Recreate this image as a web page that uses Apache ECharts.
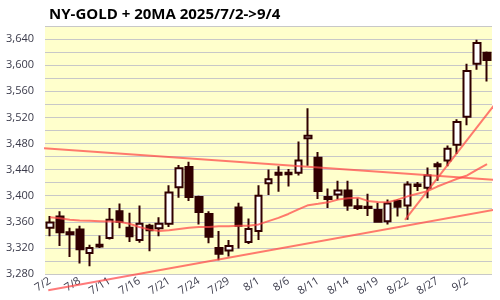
<!DOCTYPE html>
<html><head><meta charset="utf-8">
<script src="https://cdn.jsdelivr.net/npm/echarts@6/dist/echarts.min.js"></script>
<style>html,body{margin:0;padding:0;background:#fff}#c{width:500px;height:300px}</style>
</head><body><div id="c"></div>
<script>
const dates = ['7/2','7/3','7/7','7/8','7/9','7/10','7/11','7/14','7/15','7/16','7/17','7/18','7/21','7/22','7/23','7/24','7/25','7/28','7/29','7/30','7/31','8/1','8/4','8/5','8/6','8/7','8/8','8/11','8/12','8/13','8/14','8/15','8/18','8/19','8/20','8/21','8/22','8/25','8/26','8/27','8/28','8/29','9/2','9/3','9/4'];
const opens  = [3351,3368,3344,3348,3312,3322,3335,3376,3351,3332,3354,3350,3357,3413,3444,3398,3372,3320,3316,3382,3329,3346,3419,3432,3435,3435,3488,3458,3395,3402,3408,3384,3383,3378,3361,3392,3385,3417,3412,3445,3454,3478,3521,3602,3619];
const closes = [3359,3344,3341,3318,3320,3325,3363,3360,3338,3357,3347,3357,3405,3442,3398,3375,3337,3311,3323,3354,3349,3400,3425,3435,3433,3454,3492,3407,3398,3408,3385,3381,3381,3360,3388,3383,3417,3415,3431,3448,3472,3513,3591,3634,3608];
const lows   = [3338,3323,3306,3296,3292,3320,3333,3350,3329,3328,3315,3338,3352,3397,3392,3356,3327,3301,3307,3319,3326,3332,3401,3406,3414,3431,3446,3395,3381,3394,3377,3378,3369,3360,3356,3368,3363,3407,3396,3423,3445,3464,3508,3593,3575];
const highs  = [3369,3376,3351,3354,3325,3339,3381,3388,3374,3385,3357,3367,3416,3447,3452,3400,3376,3346,3332,3389,3365,3416,3440,3445,3441,3483,3534,3467,3411,3423,3423,3396,3403,3389,3394,3394,3422,3421,3443,3452,3477,3517,3602,3639,3621];
const ma20   = [3367,3365.5,3363,3362,3361.5,3361,3360.5,3360,3357,3352,3348,3346,3347,3349,3351,3352,3352,3353,3353,3354,3354,3356,3361,3366,3372,3379,3385.5,3387.5,3390,3394,3396,3397,3392,3390.5,3390,3394,3399,3403,3407,3414,3420,3426,3431,3440,3448.5];
// trend lines: [category position, price] endpoints
const trendDown  = [[-1.41,3473.4],[45.3,3423.5]];
const trendUp    = [[-0.17,3255],[45.3,3380]];
const trendSteep = [[35.74,3363],[45.3,3550]];

const ohlc = dates.map((d,i)=>[opens[i],closes[i],lows[i],highs[i]]);
const dark = '#300000';
const lineCol = 'rgba(255,70,70,0.72)';
const chart = echarts.init(document.getElementById('c'));
const trend = (d)=>({type:'line',xAxisIndex:1,data:d,symbol:'none',clip:false,silent:true,z:5,
  lineStyle:{color:lineCol,width:2}});
chart.setOption({
  animation:false,
  backgroundColor:'#ffffff',
  title:{text:'NY-GOLD + 20MA 2025/7/2->9/4',left:44,top:2,
    textStyle:{fontFamily:'Open Sans',fontWeight:'bold',fontSize:15,color:'#000'}},
  grid:{left:45,right:8,top:26,bottom:26,show:true,backgroundColor:'#ffffcc',borderWidth:0},
  xAxis:[{type:'category',data:dates,boundaryGap:true,
    axisLine:{show:false},axisTick:{show:false},
    axisLabel:{interval:2,rotate:32,fontSize:11,color:'#3a3a4a',fontFamily:'Open Sans',margin:6}},
    {type:'value',min:-0.5,max:44.5,show:false}],
  yAxis:{type:'value',min:3280,max:3660,interval:20,
    axisLine:{show:false},axisTick:{show:false},
    splitLine:{lineStyle:{color:'#c8c8c8',width:1}},
    axisLabel:{fontSize:11,color:'#3a3a4a',fontFamily:'Open Sans',margin:11,
      formatter:v=> v%40===0 ? v.toLocaleString('en-US') : ''}},
  series:[
    {type:'candlestick',data:ohlc,barWidth:7,z:3,
      itemStyle:{color:'#ffffff',color0:dark,borderColor:dark,borderColor0:dark,borderWidth:2}},
    {type:'line',data:ma20,symbol:'none',z:5,lineStyle:{color:lineCol,width:2}},
    trend(trendDown),trend(trendUp),trend(trendSteep)
  ]
});
</script></body></html>
